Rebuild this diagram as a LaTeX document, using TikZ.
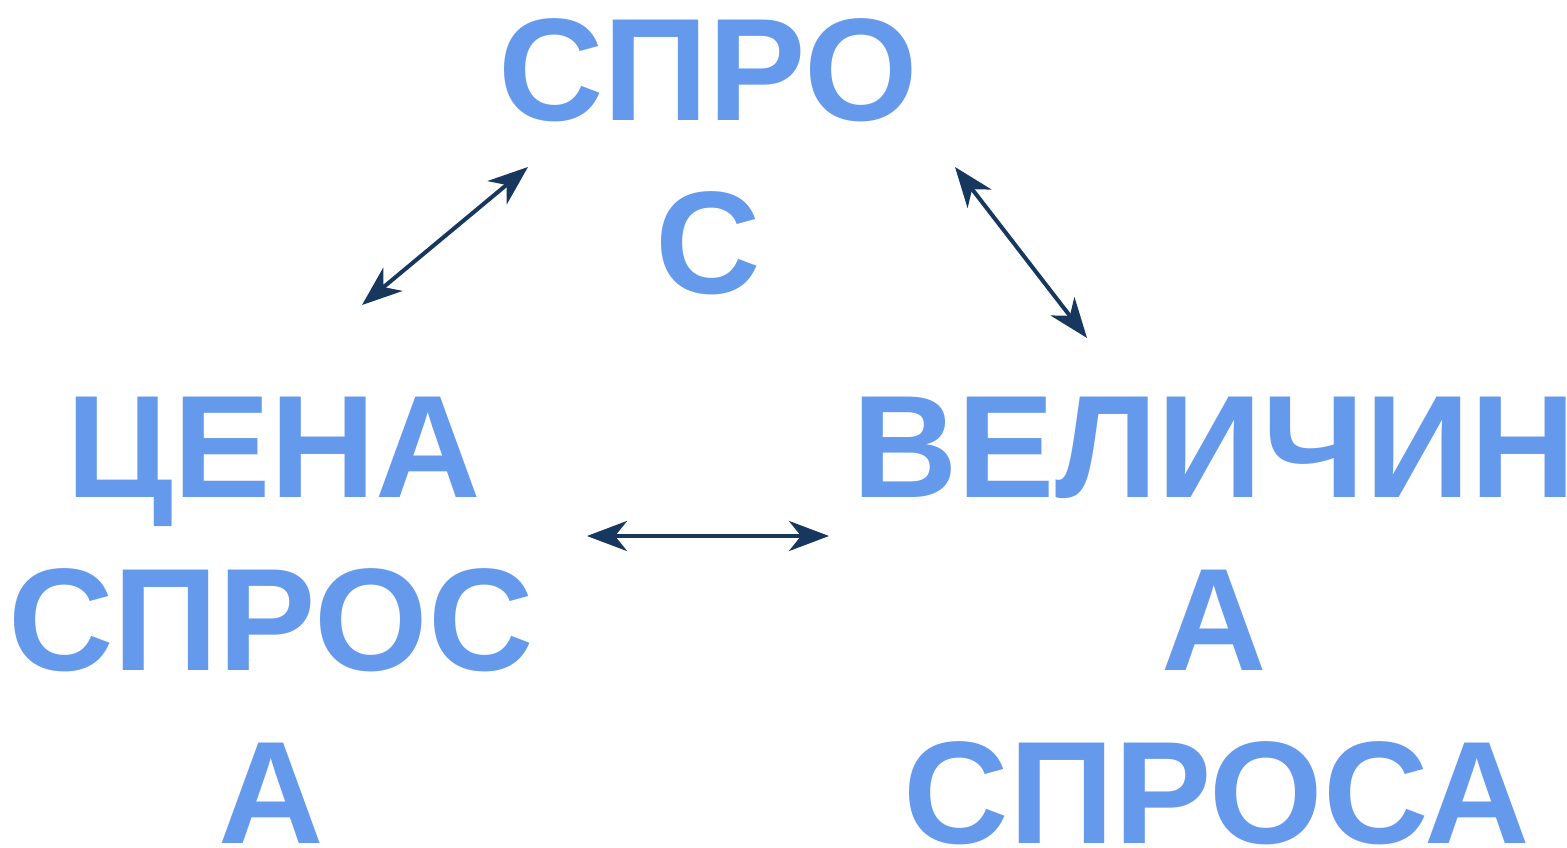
\documentclass[tikz,border=0pt]{standalone}
\usepackage{fontspec}
\setmainfont{Liberation Sans}
\usetikzlibrary{arrows.meta}
\definecolor{wordblue}{RGB}{101,153,236}
\definecolor{arrownavy}{RGB}{23,55,94}
\tikzset{
  word/.style={anchor=base, inner sep=0pt, text=wordblue,
    font=\fontsize{73}{86}\selectfont\bfseries},
  link/.style={arrownavy, line width=2pt,
    {Stealth[length=20pt,width=15pt,inset=6pt]}-{Stealth[length=20pt,width=15pt,inset=6pt]}}
}
\begin{document}
\begin{tikzpicture}[x=0.5pt,y=-0.5pt]
\useasboundingbox (0,0) rectangle (1567,847);
\node[word] (D1) at (708,120) {СПРО};
\node[word] (D2) at (708,293) {С};
\node[word] (P1) at (274,497) {ЦЕНА};
\node[word] (P2) at (271,670) {СПРОС};
\node[word] (P3) at (271,843) {А};
\node[word] (Q1) at (1214,497) {ВЕЛИЧИН};
\node[word] (Q2) at (1214,670) {А};
\node[word] (Q3) at (1217,843) {СПРОСА};
\coordinate (PD) at (362,305);
\coordinate (DP) at (528,167);
\coordinate (DQ) at (955,167);
\coordinate (QD) at (1087,338);
\coordinate (PQ) at (587,536);
\coordinate (QP) at (829,536);
\draw[link] (PD) -- (DP);
\draw[link] (DQ) -- (QD);
\draw[link] (PQ) -- (QP);
\end{tikzpicture}
\end{document}
